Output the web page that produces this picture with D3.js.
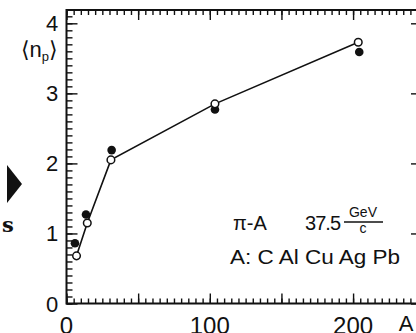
<!DOCTYPE html>
<html>
<head>
<meta charset="utf-8">
<script src="https://cdn.jsdelivr.net/npm/d3@7"></script>
<style>
  html, body { margin: 0; padding: 0; background: #fff; }
  svg { display: block; }
  .lbl { font-family: "Liberation Sans", "DejaVu Sans", sans-serif; fill: #111; }
</style>
</head>
<body>
<div id="chart"></div>
<script>
const openA = [7, 14.5, 31, 103.6, 203.6];
const openN = [0.68, 1.15, 2.05, 2.85, 3.73];
const fullA = [5.9, 13.6, 31.5, 103.6, 204.3];
const fullN = [0.86, 1.27, 2.19, 2.77, 3.59];

const xTickLabels = [0, 100, 200];
const yTickLabels = [0, 1, 2, 3, 4];

const width = 416, height = 333;

const svg = d3.select("#chart").append("svg")
    .attr("width", width)
    .attr("height", height);

const x = d3.scaleLinear().domain([0, 246]).range([66.5, 419]);
const y = d3.scaleLinear().domain([0, 4.19]).range([303.5, 10]);

const xMinor = d3.range(0, 246, 5);
const xMajor = d3.range(0, 246, 50);
const yMinor = d3.range(0, 42).map(i => i / 10);
const yMajor = [0, 1, 2, 3, 4];

// ticks all point inwards, so every axis uses the "opposite" generator
function ticks(gen, pos, vals, size) {
    const g = svg.append("g")
        .attr("transform", pos)
        .call(gen.tickValues(vals).tickSize(size).tickSizeOuter(0).tickFormat(""));
    g.select(".domain").remove();
    g.selectAll("line").attr("stroke", "#111").attr("stroke-width", 1.4);
    return g;
}

// bottom
ticks(d3.axisTop(x), `translate(0,${y(0)})`, xMinor, 5);
ticks(d3.axisTop(x), `translate(0,${y(0)})`, xMajor, 10);
// top
ticks(d3.axisBottom(x), `translate(0,${y(4.19)})`, xMinor, 5);
ticks(d3.axisBottom(x), `translate(0,${y(4.19)})`, xMajor, 10);
// left
ticks(d3.axisRight(y), `translate(${x(0)},0)`, yMinor, 6);
ticks(d3.axisRight(y), `translate(${x(0)},0)`, yMajor, 11);
// right (frame edge just outside the picture)
ticks(d3.axisLeft(y), `translate(${x(246) + 2},0)`, yMajor, 10);

// frame
svg.append("rect")
    .attr("x", x(0)).attr("y", y(4.19))
    .attr("width", x(246) + 2 - x(0)).attr("height", y(0) - y(4.19))
    .attr("fill", "none").attr("stroke", "#111").attr("stroke-width", 2);

// tick labels (cut by the bottom edge, as in the scan)
svg.selectAll(".xl").data(xTickLabels).enter().append("text")
    .attr("class", "lbl")
    .attr("x", d => x(d)).attr("y", 334)
    .attr("text-anchor", "middle")
    .attr("font-size", 24)
    .text(d => d);

svg.selectAll(".yl").data(yTickLabels).enter().append("text")
    .attr("class", "lbl")
    .attr("x", 52).attr("y", d => y(d) + 8)
    .attr("text-anchor", "middle")
    .attr("font-size", 22)
    .text(d => d);

svg.append("text").attr("class", "lbl")
    .attr("x", 406).attr("y", 331)
    .attr("text-anchor", "middle").attr("font-size", 22)
    .text("A");

// y title <n_p>
const yt = svg.append("text").attr("class", "lbl")
    .attr("x", 21).attr("y", 57).attr("font-size", 22);
yt.append("tspan").text("⟨");
yt.append("tspan").text("n");
yt.append("tspan").attr("font-size", 13).attr("dy", 4).text("p");
yt.append("tspan").attr("dy", -4).text("⟩");

// line through the open points
const openPts = openA.map((a, i) => [a, openN[i]]);
svg.append("path")
    .datum(openPts)
    .attr("fill", "none").attr("stroke", "#111").attr("stroke-width", 1.6)
    .attr("d", d3.line().x(d => x(d[0])).y(d => y(d[1])));

svg.selectAll(".full").data(fullA).enter().append("circle")
    .attr("cx", d => x(d)).attr("cy", (d, i) => y(fullN[i]))
    .attr("r", 4.3).attr("fill", "#111");

svg.selectAll(".open").data(openPts).enter().append("circle")
    .attr("cx", d => x(d[0])).attr("cy", d => y(d[1]))
    .attr("r", 3.8).attr("fill", "#fff").attr("stroke", "#111").attr("stroke-width", 1.5);

// annotation
svg.append("text").attr("class", "lbl")
    .attr("x", 233).attr("y", 230).attr("font-size", 20)
    .text("π-A");
svg.append("text").attr("class", "lbl")
    .attr("x", 305).attr("y", 230).attr("font-size", 20)
    .attr("textLength", 36).text("37.5");
svg.append("text").attr("class", "lbl")
    .attr("x", 363).attr("y", 217).attr("text-anchor", "middle")
    .attr("font-size", 14).text("GeV");
svg.append("line")
    .attr("x1", 344).attr("x2", 383).attr("y1", 222).attr("y2", 222)
    .attr("stroke", "#111").attr("stroke-width", 1.5);
svg.append("text").attr("class", "lbl")
    .attr("x", 363).attr("y", 233).attr("text-anchor", "middle")
    .attr("font-size", 14).text("c");

svg.append("text").attr("class", "lbl")
    .attr("x", 230).attr("y", 264).attr("font-size", 20)
    .attr("textLength", 170).attr("lengthAdjust", "spacingAndGlyphs")
    .text("A: C Al Cu Ag Pb");

// scan leftovers at the left edge
svg.append("path")
    .attr("d", "M7,165 L22,184 L7,203 Z")
    .attr("fill", "#111");
svg.append("text")
    .attr("x", 2).attr("y", 232)
    .attr("font-family", "DejaVu Serif, serif").attr("font-size", 21)
    .attr("font-weight", "bold")
    .attr("fill", "#111").text("s");
</script>
</body>
</html>
